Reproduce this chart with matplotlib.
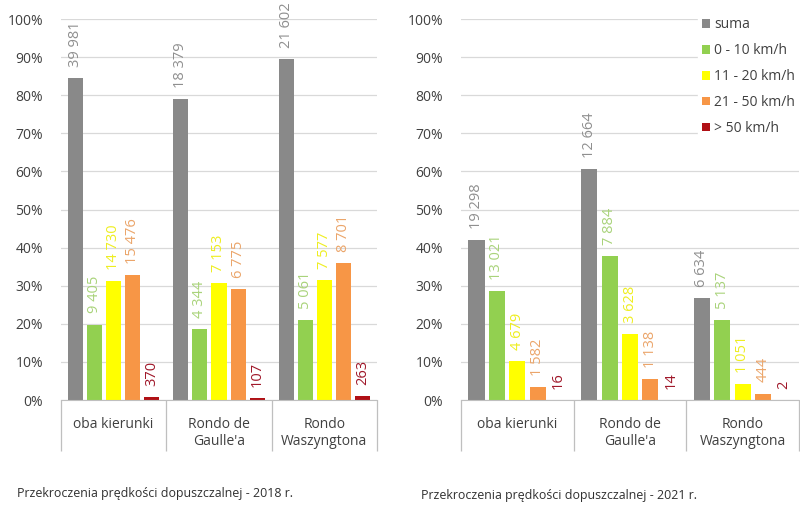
import numpy as np
import matplotlib
matplotlib.use('Agg')
import matplotlib.pyplot as plt
from matplotlib.patches import Patch

plt.rcParams['font.family'] = ['Open Sans', 'DejaVu Sans']

categories = ['oba kierunki', "Rondo de\nGaulle'a", 'Rondo\nWaszyngtona']
series = ['suma', '0 - 10 km/h', '11 - 20 km/h', '21 - 50 km/h', '> 50 km/h']

# percentage shares (bar heights)
pct_2018 = [
    [84.4, 79.0, 89.4],
    [19.8, 18.7, 21.0],
    [31.2, 30.8, 31.4],
    [32.7, 29.2, 36.0],
    [0.8, 0.5, 1.1],
]
# counts (labels)
cnt_2018 = [
    [39981, 18379, 21602],
    [9405, 4344, 5061],
    [14730, 7153, 7577],
    [15476, 6775, 8701],
    [370, 107, 263],
]

pct_2021 = [
    [42.1, 60.7, 26.8],
    [28.5, 37.8, 20.9],
    [10.2, 17.4, 4.2],
    [3.4, 5.5, 1.7],
    [0.05, 0.1, 0.01],
]
cnt_2021 = [
    [19298, 12664, 6634],
    [13021, 7884, 5137],
    [4679, 3628, 1051],
    [1582, 1138, 444],
    [16, 14, 2],
]

bar_colors = ['#898989', '#92d050', '#ffff00', '#f79646', '#b01015']
label_colors = ['#8f8f8f', '#a9d37a', '#eeee20', '#eba56a', '#a0182a']


def fmt(n):
    return f'{n:,}'.replace(',', ' ')


def draw(ax, pct, cnt):
    x = np.arange(len(categories)) + 0.5
    step = 0.181
    width = 0.143
    for i in range(len(series)):
        xs = x + (i - 2) * step
        vals = np.array(pct[i]) / 100
        ax.bar(xs, vals, width, color=bar_colors[i], label=series[i], zorder=2)
        for xi, v, c in zip(xs, vals, cnt[i]):
            ax.annotate(fmt(c), (xi, v), xytext=(0, 8), textcoords='offset points',
                        rotation=90, ha='center', va='bottom', fontsize=10.5,
                        color=label_colors[i])
    ax.set_xlim(0, len(categories))
    ax.set_ylim(0, 1)
    ax.set_yticks(np.arange(0, 1.01, 0.1))
    ax.set_yticklabels([f'{int(round(t * 100))}%' for t in np.arange(0, 1.01, 0.1)])
    ax.yaxis.grid(True, color='#d9d9d9', linewidth=0.9, zorder=0)
    ax.set_axisbelow(True)
    for s in ['top', 'right', 'left']:
        ax.spines[s].set_visible(False)
    ax.spines['bottom'].set_color('#bfbfbf')
    ax.tick_params(axis='y', length=0, pad=13, labelsize=10, labelcolor='#404040')
    ax.set_xticks(x)
    ax.set_xticklabels(categories, linespacing=1.25)
    ax.set_xticks(np.arange(len(categories) + 1), minor=True)
    ax.tick_params(axis='x', which='major', length=0, pad=12, labelsize=10,
                   labelcolor='#404040')
    ax.tick_params(axis='x', which='minor', length=37, color='#bfbfbf', width=0.9)


fig = plt.figure(figsize=(8, 5.24), dpi=100)
ax1 = fig.add_axes([0.07625, 0.2366, 0.395, 0.7271])
ax2 = fig.add_axes([0.57625, 0.2366, 0.4225, 0.7271])

draw(ax1, pct_2018, cnt_2018)
draw(ax2, pct_2021, cnt_2021)

handles = [Patch(facecolor=c, edgecolor='none') for c in bar_colors]
leg = ax2.legend(handles, series, loc='upper right', bbox_to_anchor=(1.0, 1.015),
                 frameon=True, fontsize=10, handlelength=0.6, handleheight=0.6,
                 handletextpad=0.25, labelspacing=0.78, borderaxespad=0,
                 borderpad=0.3)
leg.get_frame().set_facecolor('white')
leg.get_frame().set_edgecolor('white')
leg.get_frame().set_alpha(1)
for t in leg.get_texts():
    t.set_color('#404040')

fig.text(0.021, 0.058, 'Przekroczenia prędkości dopuszczalnej - 2018 r.',
         fontsize=8.9, color='#303030', ha='left', va='center')
fig.text(0.526, 0.055, 'Przekroczenia prędkości dopuszczalnej - 2021 r.',
         fontsize=8.9, color='#303030', ha='left', va='center')

fig.savefig('out.png', dpi=100)
